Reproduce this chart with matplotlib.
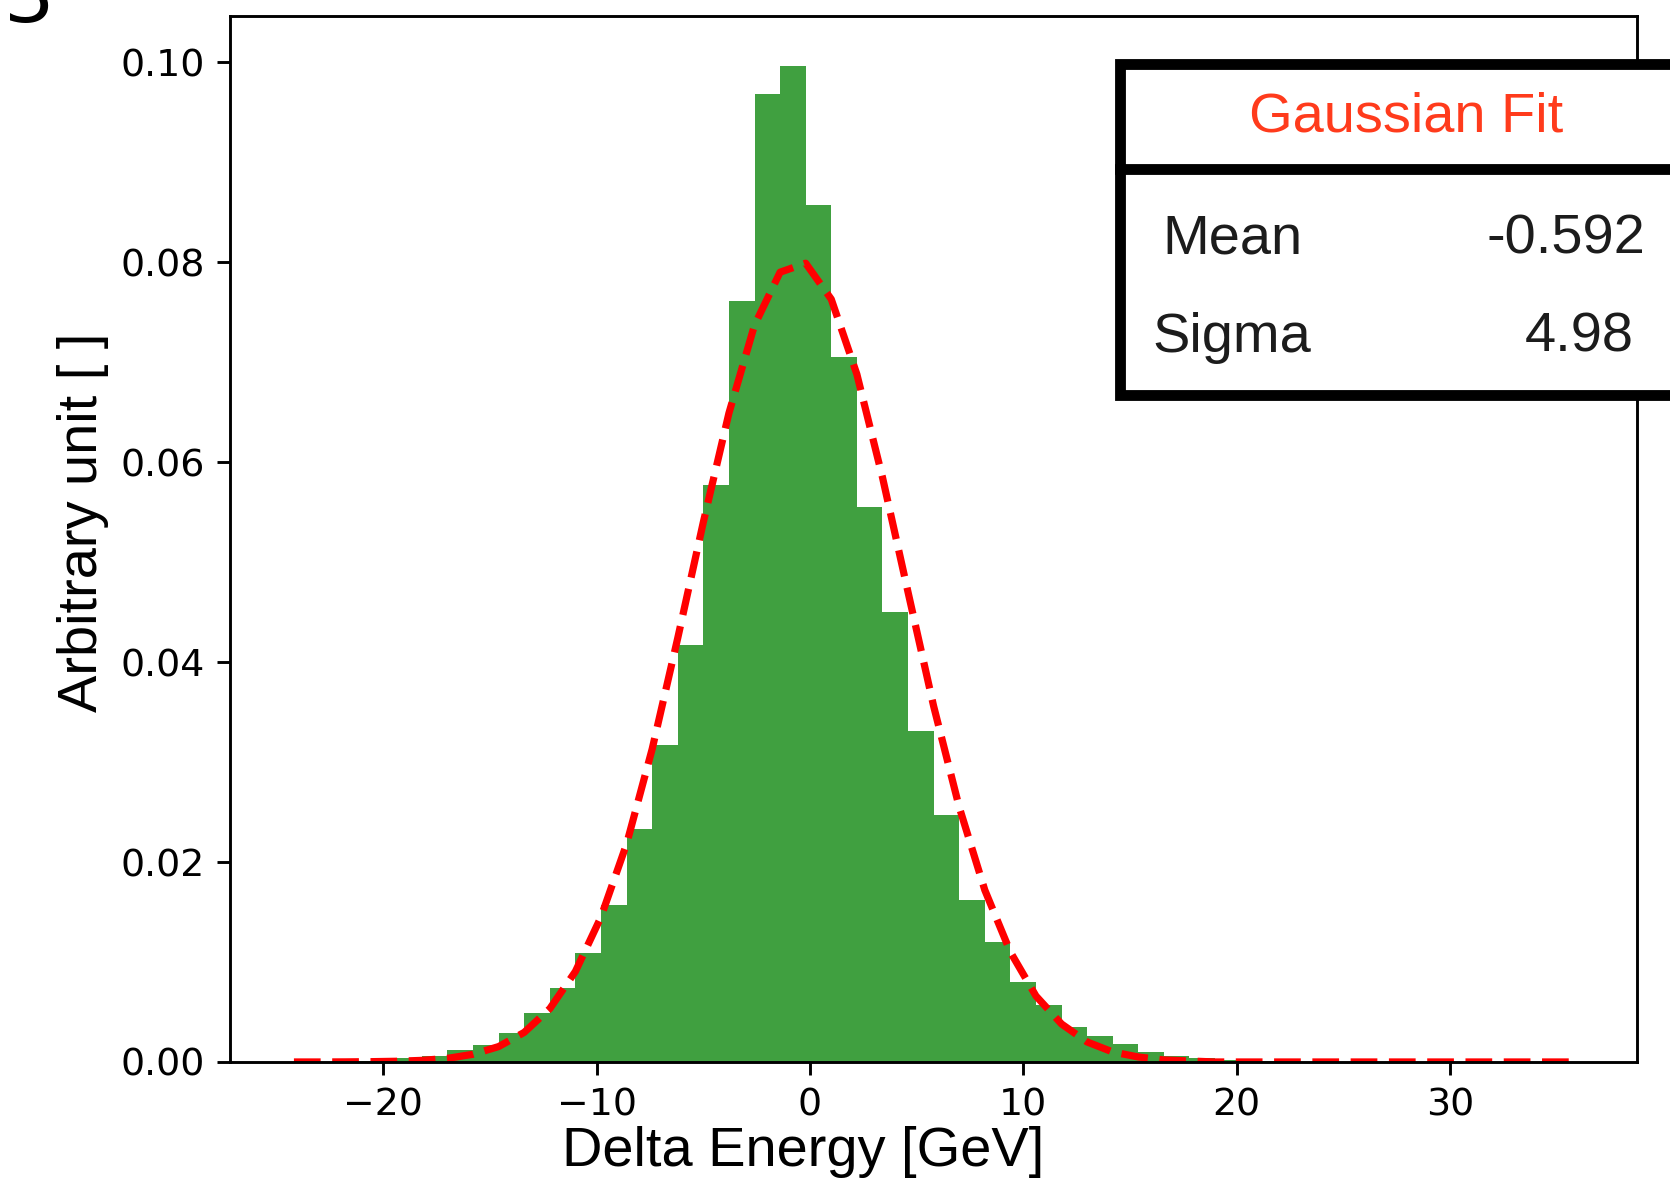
#!/usr/bin/env python3

import numpy as np
import matplotlib
matplotlib.use("Agg")
import matplotlib.pyplot as plt
from matplotlib.patches import Rectangle
from matplotlib.lines import Line2D

# histogram range and binning (delta energy, GeV)
BIN_LO, BIN_HI, NBINS = -24.18, 35.77, 50

# normalised bin contents, left to right
HEIGHTS = [0.00002, 0.00003, 0.00005, 0.0001, 0.0004, 0.0006, 0.0012, 0.0017, 0.0029, 0.0049,
           0.0074, 0.0109, 0.0157, 0.0233, 0.0317, 0.0417, 0.0577, 0.0761, 0.0968, 0.0996,
           0.0857, 0.0705, 0.0555, 0.0450, 0.0331, 0.0247, 0.0162, 0.0120, 0.0080, 0.0057,
           0.0035, 0.0026, 0.0018, 0.0010, 0.0006, 0.0004, 0.0002, 0.0001, 0.00005, 0.00003,
           0.00002, 0.00001, 0.00001, 0.0, 0.0, 0.0, 0.0, 0.0, 0.0, 0.00001]

# gaussian fit read at the bin edges
FIT_Y = [0.0, 0.0, 0.00001, 0.00003, 0.00007, 0.00016, 0.00036, 0.00077, 0.00154, 0.00296,
         0.00533, 0.00905, 0.0145, 0.0218, 0.0313, 0.0424, 0.0540, 0.0649, 0.0737, 0.0790,
         0.0799, 0.0763, 0.0688, 0.0585, 0.0470, 0.0356, 0.0255, 0.0172, 0.0110, 0.0066,
         0.0038, 0.0020, 0.0010, 0.0005, 0.0002, 0.0001, 0.0, 0.0, 0.0, 0.0,
         0.0, 0.0, 0.0, 0.0, 0.0, 0.0, 0.0, 0.0, 0.0, 0.0, 0.0]

FIT_TITLE = "Gaussian Fit"
FIT_ROWS = [("Mean", "-0.592"), ("Sigma", "4.98")]

DPI = 260
W, H = 1670, 1178
LABEL_FONT = "Liberation Sans"


def px(x, y):
    # figure pixel (from top-left) -> figure fraction
    return x / W, 1 - y / H


def draw_fit_box(fig):
    x0, y_top = px(1120, 64)
    _, y_bot = px(1120, 395)
    fig.add_artist(Rectangle((x0, y_bot), 1.2 - x0, y_top - y_bot,
                             transform=fig.transFigure, facecolor="white",
                             edgecolor="black", lw=3.0, zorder=5, clip_on=False))
    _, y_div = px(0, 169)
    fig.add_artist(Line2D([x0, 1.2], [y_div, y_div], transform=fig.transFigure,
                          color="black", lw=3.0, zorder=6))

    tx, ty = px(1406, 131.5)
    fig.text(tx, ty, FIT_TITLE, color="#ff3b1c", fontsize=15.5, family=LABEL_FONT,
             ha="center", va="baseline", zorder=7)
    for (name, val), ybase, vx in zip(FIT_ROWS, [253.3, 351.7], [1645, 1634]):
        lx, ly = px(1232, ybase)
        fig.text(lx, ly, name, color="#1c1c1c", fontsize=15.5, family=LABEL_FONT,
                 ha="center", va="baseline", zorder=7)
        rx, _ = px(vx, ybase)
        fig.text(rx, ly, val, color="#1c1c1c", fontsize=15.5, family=LABEL_FONT,
                 ha="right", va="baseline", zorder=7)


def main():
    fig = plt.figure(figsize=(W / DPI, H / DPI), dpi=DPI)
    ax = fig.add_axes([0.1377, 0.0985, 0.8427, 0.8875])

    edges = np.linspace(BIN_LO, BIN_HI, NBINS + 1)
    ax.hist(edges[:-1], bins=edges, weights=HEIGHTS, color="green", alpha=0.75)
    ax.plot(edges, FIT_Y, "r--", lw=2.0)

    ax.tick_params(labelsize=10.5)
    ax.set_xlabel("Delta Energy [GeV]", fontsize=15.5, family=LABEL_FONT)
    ax.set_ylabel("Arbitrary unit [ ]", fontsize=15.5, family=LABEL_FONT)
    ax.xaxis.set_label_coords(0.407, -0.0999)
    ax.xaxis.label.set_verticalalignment("baseline")
    ax.yaxis.set_label_coords(-0.0945, 0.516)
    ax.yaxis.label.set_verticalalignment("baseline")

    draw_fit_box(fig)

    # panel letter, cut off at the top edge as in the source figure
    fig.text(4 / W, 1 - 22 / H, "3", fontsize=22, va="baseline", ha="left")

    fig.savefig("out.png", dpi=DPI)


if __name__ == "__main__":
    main()
